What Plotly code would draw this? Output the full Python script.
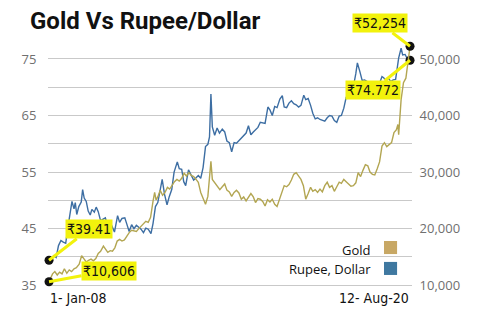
import plotly.graph_objects as go

# ---------------- data ----------------
rupee_dates = [
    "2008-01-01", "2008-02-01", "2008-03-01", "2008-04-01", "2008-05-01", "2008-06-01",
    "2008-07-01", "2008-08-01", "2008-09-01", "2008-10-01", "2008-10-20", "2008-11-15",
    "2008-12-01", "2008-12-20", "2009-01-15", "2009-02-15", "2009-03-05", "2009-03-25",
    "2009-04-20", "2009-05-15", "2009-06-10", "2009-07-01", "2009-08-01", "2009-08-25",
    "2009-09-20", "2009-10-20", "2009-11-20", "2009-12-20", "2010-01-15", "2010-02-15",
    "2010-03-15", "2010-04-15", "2010-05-25", "2010-06-20", "2010-07-20", "2010-08-25",
    "2010-09-20", "2010-10-20", "2010-11-20", "2010-12-20", "2011-01-20", "2011-02-20",
    "2011-03-20", "2011-04-20", "2011-05-20", "2011-06-20", "2011-07-25", "2011-08-20",
    "2011-09-20", "2011-10-20", "2011-11-20", "2011-12-15", "2012-01-15", "2012-02-15",
    "2012-03-15", "2012-04-15", "2012-05-15", "2012-06-25", "2012-07-20", "2012-08-20",
    "2012-09-15", "2012-10-10", "2012-11-15", "2012-12-15", "2013-01-20", "2013-02-20",
    "2013-03-20", "2013-04-20", "2013-05-20", "2013-06-20", "2013-07-20", "2013-08-10",
    "2013-08-28", "2013-09-15", "2013-10-15", "2013-11-15", "2013-12-15", "2014-01-20",
    "2014-02-20", "2014-03-20", "2014-04-20", "2014-05-20", "2014-06-20", "2014-07-20",
    "2014-08-20", "2014-09-20", "2014-10-20", "2014-11-20", "2014-12-20", "2015-01-20",
    "2015-02-20", "2015-03-20", "2015-04-20", "2015-05-20", "2015-06-20", "2015-07-20",
    "2015-08-25", "2015-09-20", "2015-10-20", "2015-11-20", "2015-12-20", "2016-01-25",
    "2016-02-25", "2016-03-20", "2016-04-20", "2016-05-20", "2016-06-20", "2016-07-20",
    "2016-08-20", "2016-09-20", "2016-10-20", "2016-11-25", "2016-12-20", "2017-01-20",
    "2017-02-20", "2017-03-20", "2017-04-20", "2017-05-20", "2017-06-20", "2017-07-20",
    "2017-08-20", "2017-09-20", "2017-10-20", "2017-11-20", "2017-12-20", "2018-01-20",
    "2018-02-20", "2018-03-20", "2018-04-20", "2018-05-20", "2018-06-20", "2018-07-20",
    "2018-08-20", "2018-09-20", "2018-10-10", "2018-11-10", "2018-12-10", "2019-01-10",
    "2019-02-10", "2019-03-10", "2019-04-10", "2019-05-10", "2019-06-10", "2019-07-10",
    "2019-08-20", "2019-09-10", "2019-10-10", "2019-11-10", "2019-12-10", "2020-01-10",
    "2020-02-10", "2020-03-20", "2020-04-20", "2020-05-10", "2020-06-10", "2020-07-10",
    "2020-08-12",
]
rupee_vals = [
    39.41, 39.6, 40.2, 39.9, 42.0, 42.9,
    42.6, 42.4, 45.5, 48.6, 49.8, 48.5,
    49.6, 47.5, 48.9, 49.7, 51.9, 50.4,
    49.8, 48.1, 47.4, 48.4, 47.9, 48.8,
    48.0, 46.4, 46.6, 46.9, 45.6, 46.3,
    45.4, 44.4, 47.3, 46.1, 46.8, 46.9,
    45.8, 44.5, 45.7, 45.0, 45.6, 45.2,
    44.9, 44.3, 45.1, 44.9, 44.1, 45.9,
    48.9, 49.6, 51.8, 53.7, 51.0, 49.2,
    50.7, 51.9, 55.0, 56.8, 55.6, 55.5,
    53.3, 52.6, 55.4, 54.6, 53.6, 54.0,
    54.4, 53.9, 55.8, 59.5, 59.9, 61.2,
    68.8, 63.0, 61.5, 62.8, 61.9, 62.6,
    62.1, 60.5, 60.2, 58.6, 60.2, 60.1,
    60.6, 61.0, 61.4, 61.9, 63.2, 61.6,
    62.1, 62.5, 62.9, 63.8, 63.7, 63.6,
    66.5, 66.0, 65.0, 66.6, 66.4, 67.9,
    68.5, 66.5, 66.4, 67.2, 67.6, 67.1,
    66.9, 66.5, 66.8, 68.6, 67.8, 68.0,
    66.8, 65.4, 64.4, 64.6, 64.3, 64.1,
    64.0, 64.6, 65.0, 64.9, 64.1, 63.8,
    64.9, 65.0, 66.3, 68.2, 68.3, 68.8,
    70.1, 72.4, 74.3, 72.8, 71.2, 71.3,
    71.0, 70.2, 70.5, 70.1, 70.6, 70.3,
    71.9, 71.7, 71.1, 71.6, 71.0, 71.3,
    71.4, 75.2, 76.9, 75.7, 75.8, 75.0,
    74.772,
]

gold_dates = [
    "2008-01-01", "2008-02-15", "2008-03-15", "2008-04-15", "2008-05-15", "2008-06-15",
    "2008-07-15", "2008-08-15", "2008-09-15", "2008-10-15", "2008-11-15", "2008-12-15",
    "2009-01-20", "2009-02-20", "2009-03-20", "2009-04-20", "2009-05-20", "2009-06-20",
    "2009-07-20", "2009-08-20", "2009-09-20", "2009-10-20", "2009-11-25", "2009-12-20",
    "2010-01-20", "2010-02-20", "2010-03-20", "2010-04-20", "2010-05-20", "2010-06-20",
    "2010-07-20", "2010-08-20", "2010-09-20", "2010-10-20", "2010-11-20", "2010-12-20",
    "2011-01-20", "2011-02-20", "2011-03-20", "2011-04-20", "2011-05-20", "2011-06-20",
    "2011-07-20", "2011-08-20", "2011-09-10", "2011-09-28", "2011-10-20", "2011-11-20",
    "2011-12-20", "2012-01-20", "2012-02-20", "2012-03-20", "2012-04-20", "2012-05-20",
    "2012-06-20", "2012-07-20", "2012-08-20", "2012-09-20", "2012-10-20", "2012-11-20",
    "2012-12-20", "2013-01-20", "2013-02-20", "2013-03-20", "2013-04-20", "2013-05-20",
    "2013-06-20", "2013-07-20", "2013-08-28", "2013-09-15", "2013-10-20", "2013-11-20",
    "2013-12-20", "2014-01-20", "2014-02-20", "2014-03-20", "2014-04-20", "2014-05-20",
    "2014-06-20", "2014-07-20", "2014-08-20", "2014-09-20", "2014-10-20", "2014-11-20",
    "2014-12-20", "2015-01-20", "2015-02-20", "2015-03-20", "2015-04-20", "2015-05-20",
    "2015-06-20", "2015-07-20", "2015-08-20", "2015-09-20", "2015-10-20", "2015-11-20",
    "2015-12-20", "2016-01-20", "2016-02-20", "2016-03-20", "2016-04-20", "2016-05-20",
    "2016-06-20", "2016-07-20", "2016-08-20", "2016-09-20", "2016-10-20", "2016-11-20",
    "2016-12-20", "2017-01-20", "2017-02-20", "2017-03-20", "2017-04-20", "2017-05-20",
    "2017-06-20", "2017-07-20", "2017-08-20", "2017-09-20", "2017-10-20", "2017-11-20",
    "2017-12-20", "2018-01-20", "2018-02-20", "2018-03-20", "2018-04-20", "2018-05-20",
    "2018-06-20", "2018-07-20", "2018-08-20", "2018-09-20", "2018-10-20", "2018-11-20",
    "2018-12-20", "2019-01-20", "2019-02-20", "2019-03-20", "2019-04-20", "2019-05-20",
    "2019-06-20", "2019-07-20", "2019-08-20", "2019-09-20", "2019-10-20", "2019-11-20",
    "2019-12-20", "2020-01-20", "2020-02-20", "2020-03-10", "2020-03-20", "2020-04-20",
    "2020-05-20", "2020-06-20", "2020-07-20", "2020-08-12",
]
gold_vals = [
    10606, 12000, 12400, 11800, 12300, 12000,
    12900, 12100, 12700, 12400, 12900, 13100,
    13700, 15200, 14700, 14100, 14400, 14600,
    14300, 14700, 15600, 16000, 16900, 16300,
    15800, 16100, 16000, 16600, 17800, 18100,
    17800, 18000, 18700, 19300, 19700, 19600,
    19500, 20000, 20400, 21000, 21300, 21100,
    22000, 24800, 26400, 25100, 25600, 26800,
    25900, 26400, 27300, 27000, 27800, 28300,
    28700, 28400, 28900, 29800, 29300, 29900,
    29400, 29200, 28700, 28200, 26400, 25400,
    24300, 25700, 31900, 28700, 28100, 27500,
    26900, 27400, 27900, 26800, 26500, 25700,
    26400, 26800, 26300, 25200, 25600, 24900,
    25500, 26200, 25600, 24600, 25300, 25200,
    24800, 24000, 25100, 24700, 25200, 24300,
    23900, 25200, 26400, 27600, 27400, 27800,
    28600, 29600, 29900, 29200, 28700, 27600,
    25200, 26200, 27300, 26600, 26900, 26400,
    27000, 26500, 27600, 28200, 27300, 27600,
    26600, 27400, 28200, 28000, 28700, 28300,
    27800, 27500, 27600, 28100, 29900, 29200,
    30300, 31300, 31100, 30000, 29600, 29500,
    30600, 31800, 34600, 35200, 34500, 34900,
    35200, 37000, 37500, 38400, 36600, 42800,
    45800, 46600, 49800, 52254,
]

# ---------------- figure ----------------
BLUE = "#3d6ea3"
GOLD = "#b3a652"
YEL = "#f2f20c"
TICK_FONT = dict(family="Open Sans, Roboto, sans-serif", size=13, color="#707070")
COND = "DejaVu Sans Condensed, Liberation Sans Narrow, Roboto, sans-serif"

fig = go.Figure()
fig.add_trace(go.Scatter(x=gold_dates, y=gold_vals, mode="lines",
                         line=dict(color=GOLD, width=1.4), yaxis="y2", hoverinfo="skip"))
fig.add_trace(go.Scatter(x=rupee_dates, y=rupee_vals, mode="lines",
                         line=dict(color=BLUE, width=1.4), yaxis="y", hoverinfo="skip"))
fig.add_trace(go.Scatter(x=[gold_dates[0], gold_dates[-1]], y=[gold_vals[0], gold_vals[-1]],
                         mode="markers", marker=dict(color="#111111", size=9),
                         yaxis="y2", cliponaxis=False))
fig.add_trace(go.Scatter(x=[rupee_dates[0], rupee_dates[-1]], y=[rupee_vals[0], rupee_vals[-1]],
                         mode="markers", marker=dict(color="#111111", size=9),
                         yaxis="y", cliponaxis=False))

callout_font = dict(family=COND, size=14, color="#111111")


def callout(x, y, yref, text, ax, ay):
    return dict(x=x, y=y, xref="x", yref=yref, text=text, showarrow=True,
                ax=ax, ay=ay, arrowhead=0, arrowwidth=3, arrowcolor=YEL,
                standoff=0, bgcolor=YEL, borderpad=1, font=callout_font)


annotations = [
    callout(gold_dates[-1], gold_vals[-1], "y2", "₹52,254", -30, -23),
    callout(rupee_dates[-1], rupee_vals[-1], "y", "₹74.772", -37, 30),
    callout(rupee_dates[0], rupee_vals[0], "y", "₹39.41", 40, -31),
    callout(gold_dates[0], gold_vals[0], "y2", "₹10,606", 60, -11),
    dict(x=0.893, y=0.1545, xref="paper", yref="paper", text="Gold", showarrow=False,
         xanchor="right", yanchor="middle",
         font=dict(family="Open Sans, Roboto, sans-serif", size=13, color="#111111")),
    dict(x=0.893, y=0.0772, xref="paper", yref="paper", text="Rupee, Dollar", showarrow=False,
         xanchor="right", yanchor="middle",
         font=dict(family="Open Sans, Roboto, sans-serif", size=13, color="#111111")),
    dict(x=0.0, y=-0.041, xref="paper", yref="paper", text="1- Jan-08", showarrow=False,
         xanchor="left", yanchor="middle", font=dict(family=COND, size=14, color="#111111")),
    dict(x=0.997, y=-0.041, xref="paper", yref="paper", text="12- Aug-20", showarrow=False,
         xanchor="right", yanchor="middle", font=dict(family=COND, size=14, color="#111111")),
]

shapes = [
    dict(type="rect", xref="paper", yref="paper", x0=0.923, x1=0.959, y0=0.138, y1=0.191,
         fillcolor="#c8a865", line=dict(width=0)),
    dict(type="rect", xref="paper", yref="paper", x0=0.923, x1=0.959, y0=0.053, y1=0.106,
         fillcolor="#3f78a0", line=dict(width=0)),
]

fig.update_layout(
    width=480, height=318,
    margin=dict(l=48, r=68, t=42, b=30),
    paper_bgcolor="white", plot_bgcolor="white",
    showlegend=False,
    title=dict(text="<b>Gold Vs Rupee/Dollar</b>", x=30 / 480, xref="container", xanchor="left",
               y=1 - 21 / 318, yanchor="middle",
               font=dict(family="Roboto, sans-serif", size=24, color="#111111")),
    xaxis=dict(type="date", range=["2007-12-19", "2020-09-06"], showticklabels=False,
               showgrid=False, zeroline=False, showline=False, ticks=""),
    yaxis=dict(range=[34.5, 78], tick0=35, dtick=10, showgrid=True, gridcolor="#c9c9c9",
               gridwidth=1, zeroline=False, showline=False, tickfont=TICK_FONT,
               ticks="outside", ticklen=8, tickcolor="rgba(0,0,0,0)",
               minor=dict(tick0=35, dtick=5, showgrid=True, gridcolor="#c9c9c9", gridwidth=1)),
    yaxis2=dict(range=[9500, 53000], tick0=10000, dtick=10000, overlaying="y", side="right",
                showgrid=False, zeroline=False, showline=False, tickformat=",",
                tickfont=TICK_FONT, ticks="outside", ticklen=4, tickcolor="rgba(0,0,0,0)"),
    annotations=annotations,
    shapes=shapes,
)

fig.write_html("out.html")
